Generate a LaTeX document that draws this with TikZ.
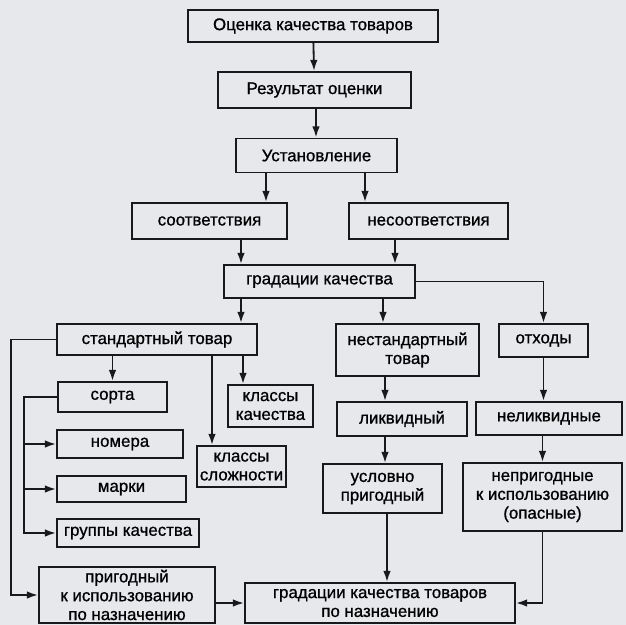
\documentclass[tikz,border=0pt]{standalone}
\usepackage{fontspec}
\setmainfont{Liberation Sans}
\newfontfamily\gradefont{Liberation Sans}[FakeBold=0.9]
\usepackage{xcolor}
\usepackage{tikz}
\usetikzlibrary{arrows.meta}
\usetikzlibrary{calc}
\definecolor{paper}{RGB}{231,232,236}
\definecolor{ink}{RGB}{25,25,25}
\tikzset{ grade_box/.style = {rectangle, draw=ink, fill=paper, line width=1.3pt, align=center, inner sep=1pt, font=\gradefont\fontsize{12}{13.4}\selectfont} }
\tikzset{ grade_line/.style = {draw=ink, line width=1.3pt} }
\tikzset{ grade_arr/.style = {grade_line, -{Latex[length=8pt,width=5.4pt]}} }

\begin{document}
\begin{tikzpicture}[x=0.025cm, y=-0.025cm]
\fill[paper] (0,0) rectangle (626,625);
\useasboundingbox (0,0) rectangle (626,625);
% top chain
\node[grade_box, minimum width=6.25cm, minimum height=0.8cm] (ocenka) at (313,26) {Оценка качества товаров};
\node[grade_box, minimum width=4.825cm, minimum height=0.9cm] (rezult) at (314.5,90) {Результат оценки};
\node[grade_box, minimum width=4.025cm, minimum height=0.85cm] (ustan) at (316.5,155.5) {Установление};
\node[grade_box, minimum width=3.875cm, minimum height=0.9cm] (sootv) at (209.5,221) {соответствия};
\node[grade_box, minimum width=3.975cm, minimum height=0.9cm] (nesootv) at (428.5,221) {несоответствия};
\node[grade_box, minimum width=4.775cm, minimum height=0.825cm] (gradac) at (319.5,281.5) {градации качества};
% second level
\node[grade_box, minimum width=5cm, minimum height=0.775cm] (stand) at (157,339.5) {стандартный товар};
\node[grade_box, minimum width=3.575cm, minimum height=1.3cm] (nestand) at (407.5,350) {нестандартный\\товар};
\node[grade_box, minimum width=2.225cm, minimum height=0.825cm] (othody) at (543.5,340.5) {отходы};
% standard goods
\node[grade_box, minimum width=2.725cm, minimum height=0.75cm] (sorta) at (112.5,397) {сорта};
\node[grade_box, minimum width=2.125cm, minimum height=1.05cm] (klkach) at (270.5,406) {классы\\качества};
\node[grade_box, minimum width=2.225cm, minimum height=1.025cm] (klslozh) at (241.5,466.5) {классы\\сложности};
\node[grade_box, minimum width=3.15cm, minimum height=0.7cm] (nomera) at (120,444) {номера};
\node[grade_box, minimum width=3.225cm, minimum height=0.65cm] (marki) at (121.5,489) {марки};
\node[grade_box, minimum width=3.55cm, minimum height=0.7cm] (gruppy) at (128,533) {группы качества};
% right branch
\node[grade_box, minimum width=3.25cm, minimum height=0.85cm] (likv) at (402,419) {ликвидный};
\node[grade_box, minimum width=3.65cm, minimum height=0.825cm] (nelikv) at (549,418.5) {неликвидные};
\node[grade_box, minimum width=2.975cm, minimum height=1.225cm] (uslovno) at (382.5,488.5) {условно\\пригодный};
\node[grade_box, minimum width=3.975cm, minimum height=1.7cm] (neprig) at (542.5,497) {непригодные\\к использованию\\(опасные)};
% bottom
\node[grade_box, minimum width=4.4cm, minimum height=1.4cm] (prigod) at (127,595) {пригодный\\к использованию\\по назначению};
\node[grade_box, minimum width=6.75cm, minimum height=1cm] (itog) at (380,603) {градации качества товаров\\по назначению};

\draw[grade_arr] (ocenka) -- (rezult);
\draw[grade_arr] (rezult.south -| 316,0) -- (ustan.north -| 316,0);
\draw[grade_arr] (ustan.south -| 266,0) -- (sootv.north -| 266,0);
\draw[grade_arr] (ustan.south -| 365,0) -- (nesootv.north -| 365,0);
\draw[grade_arr] (sootv.south -| 241,0) -- (gradac.north -| 241,0);
\draw[grade_arr] (nesootv.south -| 395,0) -- (gradac.north -| 395,0);
\draw[grade_arr] (gradac.south -| 241,0) -- (stand.north -| 241,0);
\draw[grade_arr] (gradac.south -| 383,0) -- (nestand.north -| 383,0);
\draw[grade_arr] (gradac.east) -| (othody.north);
\draw[grade_arr] (stand.south -| sorta.north) -- (sorta.north);
\draw[grade_arr] (stand.south -| 212,0) -- (klslozh.north -| 212,0);
\draw[grade_arr] (stand.south -| 243,0) -- (klkach.north -| 243,0);
\draw[grade_arr] (sorta.west) -| ([xshift=-0.8cm]gruppy.west) -- (gruppy.west);
\draw[grade_arr] ([xshift=-0.8cm]nomera.west) -- (nomera.west);
\draw[grade_arr] ([xshift=-0.8cm]marki.west) -- (marki.west);
\draw[grade_arr] (stand.west) -| ([xshift=-0.675cm]prigod.west) -- (prigod.west);
\draw[grade_arr] (prigod.east |- itog.west) -- (itog.west);
\draw[grade_arr] (nestand.south -| 385,0) -- (likv.north -| 385,0);
\draw[grade_arr] (othody.south) -- (othody.south |- nelikv.north);
\draw[grade_arr] (likv.south -| 385,0) -- (uslovno.north -| 385,0);
\draw[grade_arr] (nelikv.south -| neprig.north) -- (neprig.north);
\draw[grade_arr] (uslovno.south -| 387,0) -- (itog.north -| 387,0);
\draw[grade_arr] (neprig.south) |- (itog.east);
\end{tikzpicture}
\end{document}
